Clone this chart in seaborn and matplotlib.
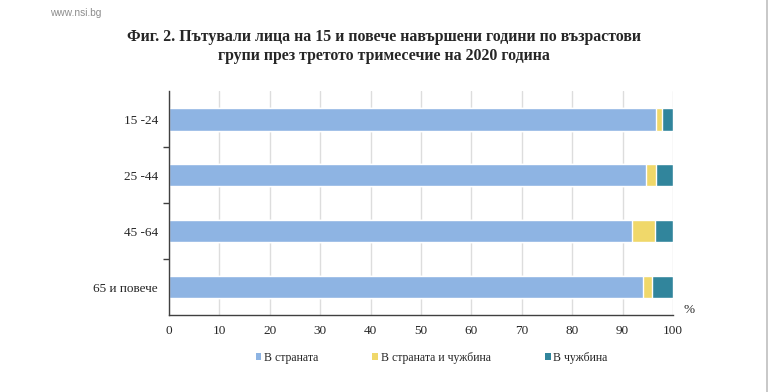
import numpy as np
import pandas as pd
import matplotlib
matplotlib.use("Agg")
import matplotlib.pyplot as plt
import seaborn as sns
from matplotlib.patches import Patch
from matplotlib.lines import Line2D

groups = ["15 -24", "25 -44", "45 -64", "65 и повече"]
domestic = [96.7, 94.6, 91.9, 94.1]
both = [1.2, 2.1, 4.6, 1.7]
abroad = [2.1, 3.3, 3.5, 4.2]
series = ["В страната", "В страната и чужбина", "В чужбина"]
colors = ["#8EB4E3", "#F0D86A", "#31859C"]
xticks = list(range(0, 101, 10))

df = pd.DataFrame({"group": groups, "d": domestic, "b": both, "a": abroad})
df["cum_b"] = df["d"] + df["b"]
df["cum_a"] = df["cum_b"] + df["a"]

sns.set_style("white")
plt.rcParams["font.family"] = ["Liberation Serif", "DejaVu Serif"]

fig = plt.figure(figsize=(7.68, 3.92), dpi=100)
ax = fig.add_axes([0.22, 0.1964, 0.6563, 0.5714])

# stacked bars: draw cumulative totals back to front
for col, c in zip(["cum_a", "cum_b", "d"], colors[::-1]):
    sns.barplot(data=df, x=col, y="group", order=groups, color=c, width=0.41,
                saturation=1, orient="h", ax=ax, zorder=2)

ax.set_xlim(0, 100)
ax.set_ylim(3.5, -0.5)
ax.set_xticks(xticks)
ax.set_xticklabels([str(t) for t in xticks], fontsize=9.5)
ax.xaxis.grid(True, color="#DDDDDD", linewidth=1, zorder=0)
ax.set_axisbelow(True)
ax.set_xlabel("")
ax.set_ylabel("")
ax.tick_params(axis="y", length=0, labelsize=9.5, pad=8)
ax.set_yticks(np.arange(0.5, 3.5, 1), minor=True)
ax.tick_params(axis="y", which="minor", length=4, width=1, color="#404040",
               direction="out", left=True)
ax.tick_params(axis="x", length=4, color="#404040", direction="out", pad=3)
for s in ["top", "right"]:
    ax.spines[s].set_visible(False)
for s in ["left", "bottom"]:
    ax.spines[s].set_color("#404040")
    ax.spines[s].set_linewidth(1)

ax.text(1.02, -0.005, "%", transform=ax.transAxes, fontsize=9.5,
        ha="left", va="bottom")

fig.text(0.5, 0.881, "Фиг. 2. Пътували лица на 15 и повече навършени години по възрастови\n"
         "групи през третото тримесечие на 2020 година",
         ha="center", va="center", fontsize=11.4, fontweight="bold", linespacing=1.2)
fig.text(0.065, 0.968, "www.nsi.bg", ha="left", va="center", fontsize=7.3,
         color="#8C8C8C", family=["Liberation Sans", "DejaVu Sans"])

handles = [Patch(facecolor=c, edgecolor="none") for c in colors]
fig.legend(handles, series, loc="center", bbox_to_anchor=(0.562, 0.088), ncol=3,
           frameon=False, fontsize=8.5, handlelength=0.5, handleheight=0.5,
           handletextpad=0.2, columnspacing=4.6)

fig.add_artist(Line2D([0.9985, 0.9985], [0, 1], transform=fig.transFigure,
                      color="#BFBFBF", linewidth=1.2))

fig.savefig("out.png", dpi=100)
